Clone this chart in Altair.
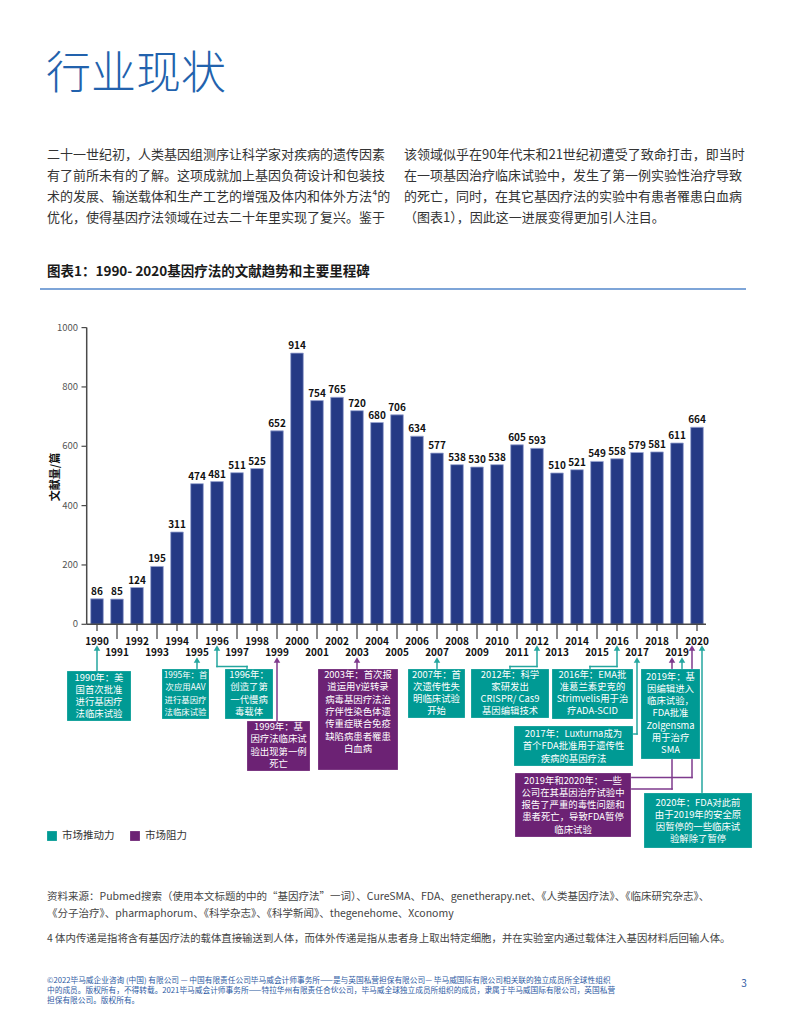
import altair as alt
import pandas as pd

# ---------------- data ----------------
years = list(range(1990, 2021))
counts = [86, 85, 124, 195, 311, 474, 481, 511, 525, 652, 914, 754, 765, 720, 680, 706,
          634, 577, 538, 530, 538, 605, 593, 510, 521, 549, 558, 579, 581, 611, 664]
y_ticks = [0, 200, 400, 600, 800, 1000]
y_title = "文献量/篇"

page_title = "行业现状"
para_left = [
    "二十一世纪初，人类基因组测序让科学家对疾病的遗传因素",
    "有了前所未有的了解。这项成就加上基因负荷设计和包装技",
    "术的发展、输送载体和生产工艺的增强及体内和体外方法⁴的",
    "优化，使得基因疗法领域在过去二十年里实现了复兴。鉴于",
]
para_right = [
    "该领域似乎在90年代末和21世纪初遭受了致命打击，即当时",
    "在一项基因治疗临床试验中，发生了第一例实验性治疗导致",
    "的死亡，同时，在其它基因疗法的实验中有患者罹患白血病",
    "（图表1），因此这一进展变得更加引人注目。",
]
chart_title = "图表1：1990- 2020基因疗法的文献趋势和主要里程碑"

milestone_kinds = ["driver", "driver", "driver", "barrier", "barrier", "driver",
                   "driver", "driver", "driver", "driver", "barrier", "driver"]
milestone_texts = [
    ["1990年：美", "国首次批准", "进行基因疗", "法临床试验"],
    ["1995年：首", "次应用AAV", "进行基因疗", "法临床试验"],
    ["1996年：", "创造了第", "一代慢病", "毒载体"],
    ["1999年：基", "因疗法临床试", "验出现第一例", "死亡"],
    ["2003年：首次报", "道运用γ逆转录", "病毒基因疗法治", "疗伴性染色体遗",
     "传重症联合免疫", "缺陷病患者罹患", "白血病"],
    ["2007年：首", "次遗传性失", "明临床试验", "开始"],
    ["2012年：科学", "家研发出", "CRISPR/ Cas9", "基因编辑技术"],
    ["2016年：EMA批", "准葛兰素史克的", "Strimvelis用于治", "疗ADA-SCID"],
    ["2017年：Luxturna成为", "首个FDA批准用于遗传性", "疾病的基因疗法"],
    ["2019年：基", "因编辑进入", "临床试验，", "FDA批准", "Zolgensma", "用于治疗", "SMA"],
    ["2019年和2020年：一些", "公司在其基因治疗试验中", "报告了严重的毒性问题和",
     "患者死亡，导致FDA暂停", "临床试验"],
    ["2020年：FDA对此前", "由于2019年的安全原", "因暂停的一些临床试", "验解除了暂停"],
]
# leaders: (milestone index, year pointed at)
leader_years = [(0, 1990), (1, 1995), (2, 1996), (3, 1999), (4, 2003), (5, 2007),
                (6, 2012), (7, 2016), (8, 2017), (9, 2019), (10, 2019), (10, 2020), (11, 2020)]
legend_labels = ["市场推动力", "市场阻力"]
sources = [
    "资料来源：Pubmed搜索（使用本文标题的中的“基因疗法”一词）、CureSMA、FDA、genetherapy.net、《人类基因疗法》、《临床研究杂志》、",
    "《分子治疗》、pharmaphorum、《科学杂志》、《科学新闻》、thegenehome、Xconomy",
]
footnote = "4 体内传递是指将含有基因疗法的载体直接输送到人体，而体外传递是指从患者身上取出特定细胞，并在实验室内通过载体注入基因材料后回输人体。"
footer = [
    "©2022毕马威企业咨询 (中国) 有限公司 — 中国有限责任公司毕马威会计师事务所——是与英国私营担保有限公司— 毕马威国际有限公司相关联的独立成员所全球性组织",
    "中的成员。版权所有，不得转载。2021毕马威会计师事务所——特拉华州有限责任合伙公司，毕马威全球独立成员所组织的成员，隶属于毕马威国际有限公司，英国私营",
    "担保有限公司。版权所有。",
]
page_no = "3"

# ---------------- style / layout ----------------
FONT = "Noto Sans CJK SC"
OFF = 8
BAR = "#253a85"
TEAL = "#009a94"
PURPLE = "#6c2274"
LTEAL = "#25a69f"
LPURPLE = "#7e3a8d"
AX = "#4a4a4a"
BLUE = "#2262ad"
KCOL = {"driver": TEAL, "barrier": PURPLE}
LCOL = {"driver": LTEAL, "barrier": LPURPLE}

X0, X1 = 87, 707          # page px span of the year band scale
Y0, Y1 = 624.3, 327.6     # page px of value 0 and 1000

xs = alt.Scale(domain=years, range=[X0 - OFF, X1 - OFF], paddingInner=0.37, paddingOuter=0.185)
ys = alt.Scale(domain=[0, 1000], range=[Y0 - OFF, Y1 - OFF], nice=False, zero=False)


def xc(year):
    step = (X1 - X0) / len(years)
    return X0 + step * (years.index(year) + 0.5)


def em_width(s):
    w = 0.0
    for ch in s:
        if ord(ch) > 0x2E7F or ch in "：，、（）《》“”":
            w += 1.0
        elif ch.isupper():
            w += 0.63
        elif ch.isdigit():
            w += 0.56
        elif ch in " /-":
            w += 0.33
        elif ch in "iltrf":
            w += 0.3
        elif ch == "m":
            w += 0.83
        else:
            w += 0.53
    return w


def PX(f):
    return alt.X(f, scale=None, axis=None)


def PY(f):
    return alt.Y(f, scale=None, axis=None)


def texts(rows, size, color="#333333", weight="normal", align="left", baseline="middle", angle=0):
    df = pd.DataFrame(rows, columns=["x", "y", "t"])
    df["x"] = df["x"] - OFF
    df["y"] = df["y"] - OFF
    mk = dict(font=FONT, fontSize=size, color=color, fontWeight=weight, align=align, baseline=baseline)
    if angle:
        mk["angle"] = angle
    return alt.Chart(df).mark_text(**mk).encode(x=PX("x:Q"), y=PY("y:Q"), text="t:N")


layers = []

# ---- page header ----
layers.append(texts([(46, 75, page_title)], 45, color=BLUE, weight=300))
layers.append(texts([(47, 155 + 21 * i, s) for i, s in enumerate(para_left)], 13, color="#333333"))
layers.append(texts([(404, 155 + 21 * i, s) for i, s in enumerate(para_right)], 13, color="#333333"))
layers.append(texts([(47, 272, chart_title)], 13.5, color="#1a1a1a", weight="bold"))
layers.append(
    alt.Chart(pd.DataFrame({"a": [0]})).mark_rule(color="#7ea5d8", strokeWidth=1.8).encode(
        x=alt.value(40 - OFF), x2=alt.value(746 - OFF), y=alt.value(289 - OFF))
)

# ---- bars ----
bar_df = pd.DataFrame({"year": years, "count": counts})
layers.append(
    alt.Chart(bar_df).mark_bar(color=BAR, stroke="#9aa6d2", strokeWidth=0.8).encode(
        x=alt.X("year:O", scale=xs, axis=None), y=alt.Y("count:Q", scale=ys, axis=None))
)
layers.append(
    alt.Chart(bar_df).mark_text(font=FONT, fontSize=10, fontWeight="bold", baseline="bottom",
                                dy=-2, color="#111111").encode(
        x=alt.X("year:O", scale=xs, axis=None), y=alt.Y("count:Q", scale=ys, axis=None),
        text="count:Q")
)

# ---- y axis ----
yt_df = pd.DataFrame({"v": y_ticks})
layers.append(
    alt.Chart(pd.DataFrame({"a": [0], "b": [1000]})).mark_rule(color=AX, strokeWidth=1.5).encode(
        x=alt.value(86.7 - OFF), y=alt.Y("a:Q", scale=ys, axis=None), y2="b:Q")
)
layers.append(
    alt.Chart(yt_df).mark_rule(color=AX, strokeWidth=1.2).encode(
        x=alt.value(81.5 - OFF), x2=alt.value(86.7 - OFF), y=alt.Y("v:Q", scale=ys, axis=None))
)
layers.append(
    alt.Chart(yt_df).mark_text(font=FONT, fontSize=9.5, color="#555555", align="right",
                               baseline="middle").encode(
        x=alt.value(78 - OFF), y=alt.Y("v:Q", scale=ys, axis=None), text="v:Q")
)
layers.append(texts([(56, 477, y_title)], 11, color="#111111", weight="bold", align="center", angle=270))

# ---- x axis ----
layers.append(
    alt.Chart(pd.DataFrame({"a": [0]})).mark_rule(color=AX, strokeWidth=1.5).encode(
        x=alt.value(86.7 - OFF), x2=alt.value(706 - OFF), y=alt.value(Y0 - OFF))
)
lab_df = pd.DataFrame({"year": years, "label": [str(y) for y in years]})
even_df = lab_df[lab_df["year"] % 2 == 0]
odd_df = lab_df[lab_df["year"] % 2 == 1]
layers.append(
    alt.Chart(even_df).mark_rule(color=AX, strokeWidth=1.3).encode(
        x=alt.X("year:O", scale=xs, axis=None), y=alt.value(Y0 - OFF), y2=alt.value(631 - OFF))
)
layers.append(
    alt.Chart(odd_df).mark_rule(color=AX, strokeWidth=1.3).encode(
        x=alt.X("year:O", scale=xs, axis=None), y=alt.value(Y0 - OFF), y2=alt.value(639 - OFF))
)
layers.append(
    alt.Chart(even_df).mark_text(font=FONT, fontSize=10, fontWeight="bold", color="#111111",
                                 baseline="middle").encode(
        x=alt.X("year:O", scale=xs, axis=None), y=alt.value(641.5 - OFF), text="label:N")
)
layers.append(
    alt.Chart(odd_df).mark_text(font=FONT, fontSize=10, fontWeight="bold", color="#111111",
                                baseline="middle").encode(
        x=alt.X("year:O", scale=xs, axis=None), y=alt.value(653 - OFF), text="label:N")
)

# ---- annotation layout (page px) ----
box_layout = [
    (67, 671, 131, 721, 677.5),
    (162, 669, 209, 719, 675),
    (225, 669, 273, 719, 675),
    (247, 721, 310, 771, 727),
    (318, 669, 398, 770, 675),
    (408, 669, 465, 718, 674.5),
    (471, 669, 549, 718, 674.5),
    (552, 669, 633, 719, 674.5),
    (514, 726, 633, 766, 734),
    (641, 669, 700, 759, 676.5),
    (515, 773, 631, 837, 780.5),
    (644, 793, 752, 848, 802.5),
]
# leader geometry: x offset from year centre, arrow tip y, remaining path (None = year x)
leader_layout = [
    (0, 645, [(None, 671)]),
    (0, 657, [(None, 669)]),
    (0, 645, [(None, 666.5), (247, 666.5), (247, 669)]),
    (0, 657, [(None, 721)]),
    (0, 657, [(None, 669)]),
    (0, 657, [(None, 669)]),
    (0, 645, [(None, 666.5), (510, 666.5), (510, 669)]),
    (0, 645, [(None, 666.5), (590, 666.5), (590, 669)]),
    (0, 657, [(None, 734), (633, 734)]),
    (5, 657, [(None, 669)]),
    (-5, 657, [(None, 789), (631, 789)]),
    (-5, 645, [(None, 777.5), (631, 777.5)]),
    (5, 645, [(None, 793)]),
]

segs, heads = [], []
for (mi, yr), (dx, tip, path) in zip(leader_years, leader_layout):
    col = LCOL[milestone_kinds[mi]]
    x = xc(yr) + dx
    pts = [(x, tip + 3)] + [((x if px is None else px), py) for px, py in path]
    for (ax, ay), (bx, by) in zip(pts[:-1], pts[1:]):
        segs.append((ax - OFF, bx - OFF, ay - OFF, by - OFF, col))
    heads.append((x - OFF, tip + 3 - OFF, col))

seg_df = pd.DataFrame(segs, columns=["x", "x2", "y", "y2", "c"])
layers.append(
    alt.Chart(seg_df).mark_rule(strokeWidth=1.5, strokeCap="square").encode(
        x=PX("x:Q"), x2="x2:Q", y=PY("y:Q"), y2="y2:Q", color=alt.Color("c:N", scale=None))
)

rects = []
for (x1, y1, x2, y2, _), k in zip(box_layout, milestone_kinds):
    rects.append((x1 - OFF, x2 - OFF, y1 - OFF, y2 - OFF, KCOL[k]))
# legend swatches
rects.append((47 - OFF, 57 - OFF, 831 - OFF, 841 - OFF, TEAL))
rects.append((130 - OFF, 140 - OFF, 831 - OFF, 841 - OFF, PURPLE))
rect_df = pd.DataFrame(rects, columns=["x", "x2", "y", "y2", "c"])
layers.append(
    alt.Chart(rect_df).mark_rect(stroke="#ffffff", strokeOpacity=0.35, strokeWidth=0.6).encode(
        x=PX("x:Q"), x2="x2:Q", y=PY("y:Q"), y2="y2:Q", color=alt.Color("c:N", scale=None))
)

head_df = pd.DataFrame(heads, columns=["x", "y", "c"])
layers.append(
    alt.Chart(head_df).mark_point(shape="triangle-up", filled=True, size=42, opacity=1).encode(
        x=PX("x:Q"), y=PY("y:Q"), color=alt.Color("c:N", scale=None))
)

ann_rows = []
for (x1, y1, x2, y2, first), lines in zip(box_layout, milestone_texts):
    fs = min(9.4, (x2 - x1 - 3) / max(em_width(s) for s in lines))
    for i, s in enumerate(lines):
        ann_rows.append(((x1 + x2) / 2 - OFF, first + 12.3 * i - OFF, s, round(fs, 2)))
ann_df = pd.DataFrame(ann_rows, columns=["x", "y", "t", "s"])
layers.append(
    alt.Chart(ann_df).mark_text(font=FONT, color="#ffffff", align="center", baseline="middle").encode(
        x=PX("x:Q"), y=PY("y:Q"), text="t:N", size=alt.Size("s:Q", scale=None))
)

# ---- legend text ----
layers.append(texts([(62, 836, legend_labels[0]), (145, 836, legend_labels[1])], 10.5, color="#333333"))

# ---- sources / footnote / footer ----
layers.append(texts([(47, 897 + 17 * i, s) for i, s in enumerate(sources)], 10.5, color="#444444"))
layers.append(texts([(47, 939, footnote)], 10.4, color="#444444"))
layers.append(texts([(47, 981 + 10 * i, s) for i, s in enumerate(footer)], 7.7, color="#2d5aa3"))
layers.append(texts([(744, 984, page_no)], 10, color="#2d5aa3", align="center"))

chart = (
    alt.layer(*layers)
    .resolve_scale(x="independent", y="independent", color="independent", size="independent")
    .properties(width=775, height=1000, padding=0, autosize=alt.AutoSizeParams(type="none"),
                background="white")
    .configure_view(stroke=None)
)

chart.save("out.html", embed_options={"renderer": "svg", "actions": False})
